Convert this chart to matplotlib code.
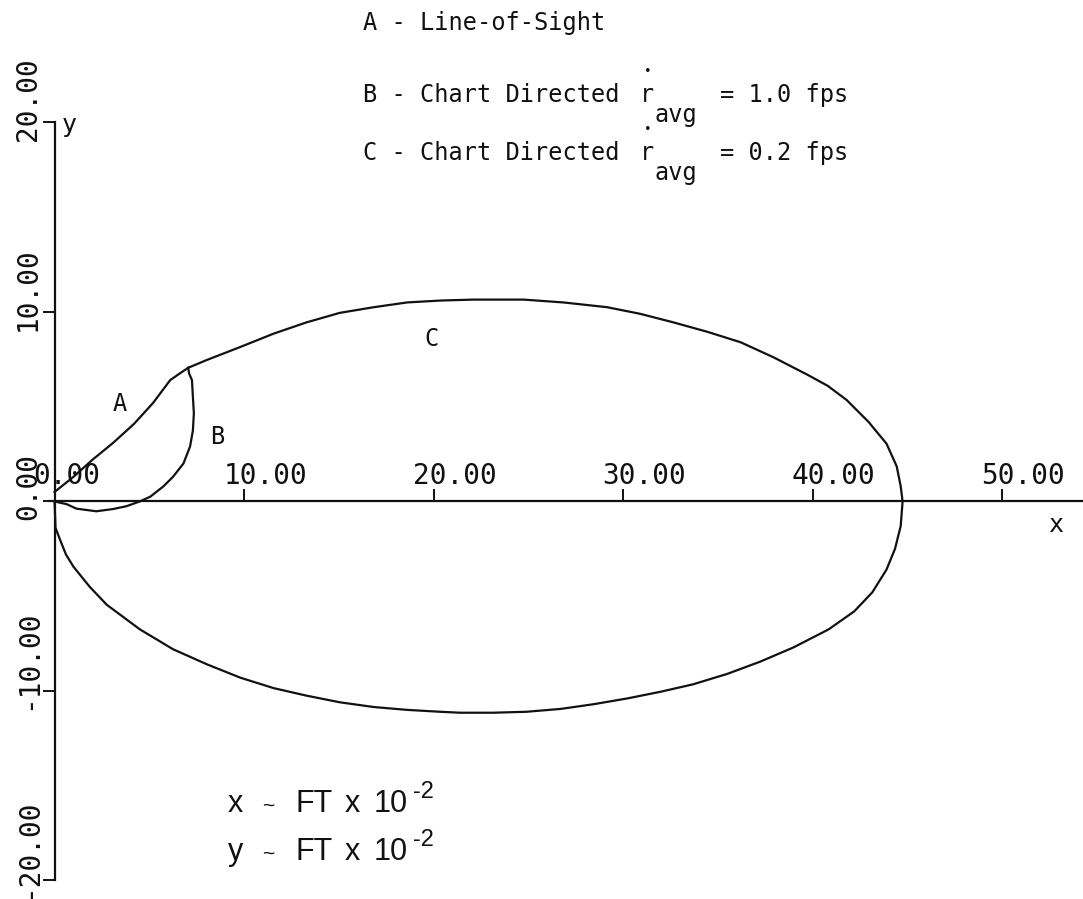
import numpy as np
import matplotlib
matplotlib.use("Agg")
import matplotlib.pyplot as plt

# trajectory A - line of sight
a_x = [0.0, 1.0, 2.0, 3.1, 4.2, 5.2, 6.1, 6.6, 7.05]
a_y = [0.5, 1.3, 2.2, 3.1, 4.1, 5.2, 6.4, 6.75, 7.05]

# trajectory B - chart directed, r_avg = 1.0 fps
b_x = [7.05, 7.1, 7.25, 7.3, 7.35, 7.3, 7.15, 6.8, 6.25, 5.75, 5.05, 4.5, 3.8,
       3.1, 2.2, 1.15, 0.65, 0.0]
b_y = [7.05, 6.75, 6.4, 5.5, 4.65, 3.75, 2.9, 2.0, 1.3, 0.8, 0.25, 0.0, -0.25,
       -0.4, -0.52, -0.38, -0.15, 0.0]

# trajectory C - chart directed, r_avg = 0.2 fps
c_x = [7.05, 8.0, 9.8, 11.55, 13.3, 15.05, 16.85, 18.6, 20.35, 22.1, 24.75, 26.85,
       29.15, 30.9, 32.65, 34.45, 36.2, 37.95, 39.7, 40.8, 41.8, 42.95, 43.9,
       44.44, 44.65, 44.75, 44.65, 44.35, 43.9, 43.15, 42.2, 40.85, 39.0, 37.25,
       35.5, 33.7, 31.95, 30.2, 28.45, 26.7, 24.9, 23.15, 21.4, 20.35, 18.6, 16.85,
       15.05, 13.3, 11.55, 9.8, 8.05, 6.25, 4.5, 2.75, 1.85, 1.0, 0.6, 0.3,
       0.05, 0.0]
c_y = [7.05, 7.45, 8.15, 8.85, 9.45, 9.95, 10.25, 10.5, 10.6, 10.65, 10.65, 10.5,
       10.25, 9.9, 9.45, 8.95, 8.4, 7.6, 6.7, 6.1, 5.35, 4.2, 3.05,
       1.85, 0.8, 0.0, -1.3, -2.5, -3.6, -4.8, -5.8, -6.75, -7.7, -8.45,
       -9.1, -9.65, -10.05, -10.4, -10.7, -10.95, -11.1, -11.15, -11.15, -11.1, -11.0, -10.85,
       -10.6, -10.25, -9.85, -9.3, -8.6, -7.8, -6.75, -5.45, -4.5, -3.45, -2.8, -2.05,
       -1.4, 0.0]

x_ticks = [0, 10, 20, 30, 40, 50]
x_labels = ["0.00", "10.00", "20.00", "30.00", "40.00", "50.00"]
y_ticks = [-20, -10, 0, 10, 20]
y_labels = ["-20.00", "-10.00", "0.00", "10.00", "20.00"]

W, H = 1083, 899
mono = "DejaVu Sans Mono"
ink = "#111111"

def fpos(x, y):
    # pixel position -> figure fraction
    return x / W, 1 - y / H

fig = plt.figure(figsize=(W / 100, H / 100), dpi=100)
ax = fig.add_axes([0, 0, 1, 1])
ax.set_xlim(-2.88, 54.27)
ax.set_ylim(-20.98, 26.46)

# axes drawn through the origin
ax.spines["right"].set_visible(False)
ax.spines["bottom"].set_visible(False)
ax.spines["top"].set_position(("data", 0))
ax.spines["top"].set_bounds(-0.3, 54.27)
ax.spines["left"].set_position(("data", 0))
ax.spines["left"].set_bounds(-20, 20)
for s in ["top", "left"]:
    ax.spines[s].set_linewidth(1.6)
    ax.spines[s].set_color(ink)
ax.xaxis.tick_top()
ax.set_xticks(x_ticks)
ax.set_yticks(y_ticks)
ax.tick_params(axis="x", direction="out", length=8.5, width=1.4, color=ink, labeltop=False)
ax.tick_params(axis="y", direction="out", length=8.5, width=1.4, color=ink, labelleft=False)

for t, lab in zip(x_ticks, x_labels):
    ax.text(t - 1.1, 0.92, lab, ha="left", va="baseline", fontsize=20,
            family=mono, color=ink)
for t, lab in zip(y_ticks, y_labels):
    ax.text(-1.4, t - 1.0, lab, rotation=90, ha="center", va="bottom",
            fontsize=20, family=mono, color=ink)

for xs, ys in [(a_x, a_y), (b_x, b_y), (c_x, c_y)]:
    ax.plot(xs, ys, color=ink, lw=1.6, solid_joinstyle="round")

# curve letters and axis names
ax.text(3.42, 5.15, "A", ha="center", va="center", fontsize=17, family=mono, color=ink)
ax.text(8.57, 3.4, "B", ha="center", va="center", fontsize=17, family=mono, color=ink)
ax.text(19.9, 8.55, "C", ha="center", va="center", fontsize=17, family=mono, color=ink)
fig.text(*fpos(62, 132), "y", ha="left", va="baseline", fontsize=18, family=mono, color=ink)
fig.text(*fpos(1048, 532), "x", ha="left", va="baseline", fontsize=18, family=mono, color=ink)

# legend block
fig.text(*fpos(363, 30), "A - Line-of-Sight", ha="left", va="baseline",
         fontsize=17, family=mono, color=ink)
for name, base, val in [("B", 102, "= 1.0 fps"), ("C", 160, "= 0.2 fps")]:
    fig.text(*fpos(363, base), name + " - Chart Directed", ha="left", va="baseline",
             fontsize=17, family=mono, color=ink)
    fig.text(*fpos(640, base), "r", ha="left", va="baseline", fontsize=17,
             family=mono, color=ink)
    fig.text(*fpos(648, base - 31), "\u2022", ha="center", va="center", fontsize=9,
             family=mono, color=ink)
    fig.text(*fpos(654, base + 20), "avg", ha="left", va="baseline", fontsize=17,
             family=mono, color=ink)
    fig.text(*fpos(720, base), val, ha="left", va="baseline", fontsize=17,
             family=mono, color=ink)

# units note
sans = "Liberation Sans"
for base, var in [(812, "x"), (860, "y")]:
    fig.text(*fpos(228, base), var, ha="left", va="baseline", fontsize=22, family=sans, color=ink)
    fig.text(*fpos(262, base), "~", ha="left", va="baseline", fontsize=15, family=sans, color=ink)
    fig.text(*fpos(295, base), "FT", ha="left", va="baseline", fontsize=22, family=sans, color=ink)
    fig.text(*fpos(345, base), "x", ha="left", va="baseline", fontsize=22, family=sans, color=ink)
    fig.text(*fpos(374, base), "10", ha="left", va="baseline", fontsize=22, family=sans, color=ink)
    fig.text(*fpos(413, base - 14), "-2", ha="left", va="baseline", fontsize=17, family=sans, color=ink)

fig.savefig("out.png", dpi=100, facecolor="white")
